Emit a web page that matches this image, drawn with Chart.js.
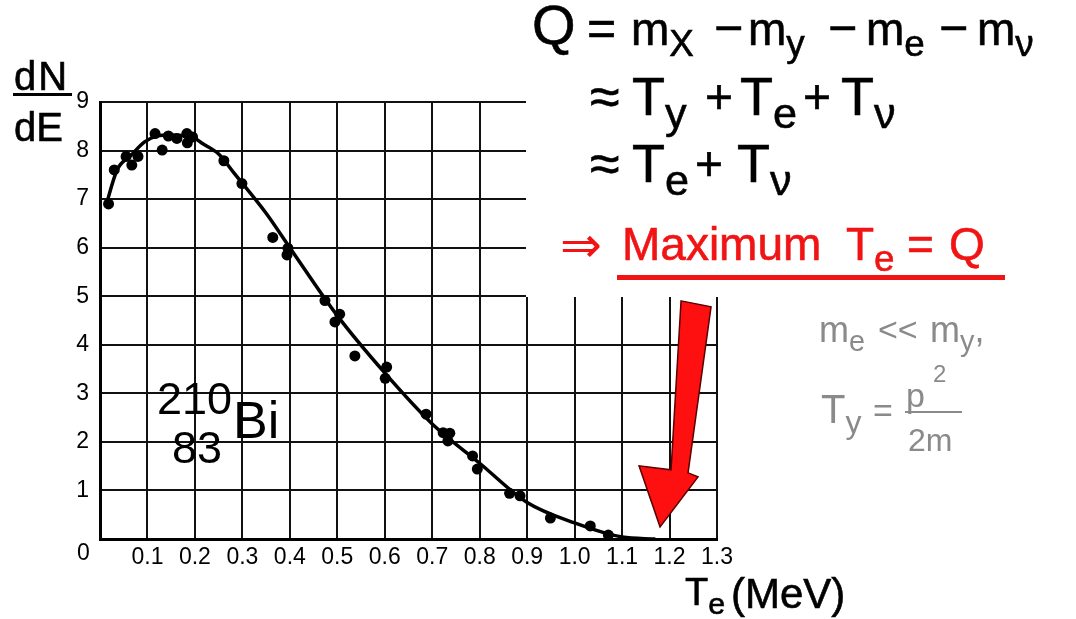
<!DOCTYPE html>
<html><head><meta charset="utf-8">
<script src="https://cdn.jsdelivr.net/npm/chart.js@4.4.1/dist/chart.umd.min.js"></script>
<style>
html,body{margin:0;padding:0;background:#fff}
#wrap{position:relative;width:1076px;height:619px;overflow:hidden;background:#fff}
#c{position:absolute;left:0;top:0}
.t{position:absolute;white-space:nowrap;line-height:1;font-family:"Liberation Sans",Arial,sans-serif;color:#000}
.b{-webkit-text-stroke:0.6px currentColor}
.s{position:relative;font-size:0.8em;top:0.3em}
.r{color:#f01414}
.g{color:#8a8a8a}
</style></head><body>
<div id="wrap">
<canvas id="c" width="1076" height="619"></canvas>

<!-- y-axis title dN/dE -->
<div class="t b" style="left:14px;top:56px;font-size:40px;letter-spacing:2px">dN</div>
<div style="position:absolute;left:13px;top:93px;width:59px;height:3px;background:#000"></div>
<div class="t b" style="left:14px;top:107px;font-size:40px">dE</div>
<div class="t" style="left:77px;top:541px;font-size:23px">0</div>

<!-- isotope label -->
<div class="t" style="left:157px;top:376px;font-size:45px">210</div>
<div class="t" style="left:172px;top:425px;font-size:45px">83</div>
<div class="t" style="left:233px;top:394px;font-size:52px">Bi</div>

<!-- x-axis title -->
<div class="t b" style="left:685px;top:573px;font-size:38px">T<span class="s">e</span></div>
<div class="t b" style="left:731px;top:573px;font-size:42px">(MeV)</div>

<!-- line 1 -->
<div class="t b" style="left:532px;top:-3px;font-size:56px">Q</div>
<div class="t b" style="left:587px;top:3px;font-size:50px">=</div>
<div class="t b" style="left:631px;top:6px;font-size:46px">m<span class="s">X</span></div>
<div class="t b" style="left:714px;top:3px;font-size:50px">−</div>
<div class="t b" style="left:748px;top:6px;font-size:46px">m<span class="s">y</span></div>
<div class="t b" style="left:828px;top:3px;font-size:50px">−</div>
<div class="t b" style="left:866px;top:6px;font-size:46px">m<span class="s">e</span></div>
<div class="t b" style="left:939px;top:3px;font-size:50px">−</div>
<div class="t b" style="left:977px;top:6px;font-size:46px">m<span class="s">ν</span></div>

<!-- line 2 -->
<div class="t b" style="left:590px;top:69px;font-size:54px">≈</div>
<div class="t b" style="left:632px;top:69px;font-size:54px">T<span class="s">y</span></div>
<div class="t b" style="left:705px;top:73px;font-size:48px">+</div>
<div class="t b" style="left:740px;top:69px;font-size:54px">T<span class="s">e</span></div>
<div class="t b" style="left:803px;top:73px;font-size:48px">+</div>
<div class="t b" style="left:841px;top:69px;font-size:54px">T<span class="s">ν</span></div>

<!-- line 3 -->
<div class="t b" style="left:590px;top:136px;font-size:54px">≈</div>
<div class="t b" style="left:632px;top:136px;font-size:54px">T<span class="s">e</span></div>
<div class="t b" style="left:695px;top:140px;font-size:48px">+</div>
<div class="t b" style="left:737px;top:136px;font-size:54px">T<span class="s">ν</span></div>

<!-- line 4 (red) -->
<div class="t r" style="left:560px;top:220px;font-size:50px;font-family:'DejaVu Sans',sans-serif">⇒</div>
<div class="t r b" style="left:622px;top:221px;font-size:46px">Maximum</div>
<div class="t r b" style="left:846px;top:221px;font-size:46px">T<span class="s">e</span></div>
<div class="t r b" style="left:907px;top:221px;font-size:46px">=</div>
<div class="t r b" style="left:949px;top:221px;font-size:46px">Q</div>
<div style="position:absolute;left:617px;top:275px;width:388px;height:5px;background:#f01414"></div>

<!-- grey note -->
<div class="t g" style="left:819px;top:312px;font-size:36px">m<span class="s">e</span></div>
<div class="t g" style="left:878px;top:312px;font-size:34px">&lt;&lt;</div>
<div class="t g" style="left:930px;top:312px;font-size:36px">m<span class="s">y</span>,</div>
<div class="t g" style="left:821px;top:389px;font-size:40px">T<span class="s">y</span></div>
<div class="t g" style="left:873px;top:393px;font-size:34px">=</div>
<div class="t g" style="left:906px;top:378px;font-size:34px">p</div>
<div class="t g" style="left:933px;top:362px;font-size:24px">2</div>
<div style="position:absolute;left:905px;top:411px;width:57px;height:2px;background:#8a8a8a"></div>
<div class="t g" style="left:908px;top:424px;font-size:32px">2m</div>
</div>

<script>
// measured data points (T_e in MeV, dN/dE)
const pointX = [0.018,0.03,0.055,0.067,0.08,0.116,0.131,0.144,0.162,0.183,0.184,0.195,0.261,0.299,0.364,0.396,0.394,0.474,0.505,0.495,0.537,0.604,0.601,0.687,0.723,0.737,0.733,0.785,0.795,0.863,0.885,0.949,1.033,1.071];
const pointY = [6.9,7.6,7.88,7.7,7.88,8.35,8.01,8.3,8.25,8.35,8.16,8.28,7.79,7.32,6.21,5.99,5.85,4.91,4.63,4.47,3.77,3.54,3.31,2.57,2.19,2.18,2.02,1.71,1.44,0.94,0.89,0.43,0.27,0.08];
// fitted curve
const curveX = [0.012,0.036,0.065,0.094,0.12,0.15,0.18,0.2,0.215,0.25,0.283,0.35,0.4,0.5,0.6,0.7,0.8,0.9,1.0,1.1,1.17];
const curveY = [6.85,7.6,7.9,8.18,8.3,8.32,8.3,8.25,8.15,7.93,7.53,6.71,6.0,4.6,3.42,2.37,1.56,0.75,0.33,0.04,0];
// axes
const xMin = 0, xMax = 1.3, xStep = 0.1;
const yMin = 0, yMax = 9, yStep = 1;
// arrow tip (end point of spectrum)
const arrowTip = {x: 1.18, y: 0.25};

const overlay = {
  id: 'overlay',
  beforeDatasetsDraw(chart) {
    const ctx = chart.ctx;
    ctx.save();
    ctx.fillStyle = '#fff';
    ctx.fillRect(526, 80, 230, 217);
    ctx.restore();
  },
  afterDatasetsDraw(chart) {
    const ctx = chart.ctx;
    const tx = chart.scales.x.getPixelForValue(arrowTip.x);
    const ty = chart.scales.y.getPixelForValue(arrowTip.y);
    const shape = [[21,-226],[51,-220],[28,-54],[38,-50],[0,0],[-21,-61],[11,-57]];
    ctx.save();
    ctx.beginPath();
    shape.forEach(([dx,dy],i)=>{ if(i===0) ctx.moveTo(tx+dx,ty+dy); else ctx.lineTo(tx+dx,ty+dy); });
    ctx.closePath();
    ctx.fillStyle = '#ff1010';
    ctx.fill();
    ctx.lineWidth = 1.5;
    ctx.strokeStyle = '#5a0000';
    ctx.stroke();
    ctx.restore();
  }
};

Chart.defaults.font.family = 'Liberation Sans';
Chart.defaults.font.size = 23;
Chart.defaults.color = '#000';
new Chart(document.getElementById('c'), {
  type: 'scatter',
  data: {
    datasets: [
      {
        type: 'line',
        data: curveX.map((x,i)=>({x, y: curveY[i]})),
        borderColor: '#000', borderWidth: 3.5, pointRadius: 0,
        cubicInterpolationMode: 'monotone', fill: false, order: 2
      },
      {
        type: 'scatter',
        data: pointX.map((x,i)=>({x, y: pointY[i]})),
        pointRadius: 5.5, backgroundColor: '#000', borderColor: '#000', borderWidth: 0, order: 1
      }
    ]
  },
  options: {
    responsive: false, animation: false, devicePixelRatio: 1,
    layout: {padding: {top: 102, right: 359, left: 0, bottom: 0}},
    plugins: {legend: {display: false}, tooltip: {enabled: false}},
    scales: {
      x: {
        type: 'linear', min: xMin, max: xMax,
        afterFit(s) { s.height = 80; },
        ticks: {stepSize: xStep, autoSkip: false, maxRotation: 0, padding: 5, color: '#000',
          font: {family: 'Liberation Sans', size: 23},
          callback: v => Math.abs(v) < 1e-9 ? '' : v.toFixed(1)},
        grid: {color: '#111', lineWidth: 2, drawTicks: false},
        border: {color: '#000', width: 3}
      },
      y: {
        min: yMin, max: yMax,
        afterFit(s) { s.width = 100; },
        ticks: {stepSize: yStep, padding: 11, color: '#000',
          font: {family: 'Liberation Sans', size: 23},
          callback: v => v === 0 ? '' : String(v)},
        grid: {color: '#111', lineWidth: 2, drawTicks: false},
        border: {color: '#000', width: 3}
      }
    }
  },
  plugins: [overlay]
});
</script>
</body></html>
